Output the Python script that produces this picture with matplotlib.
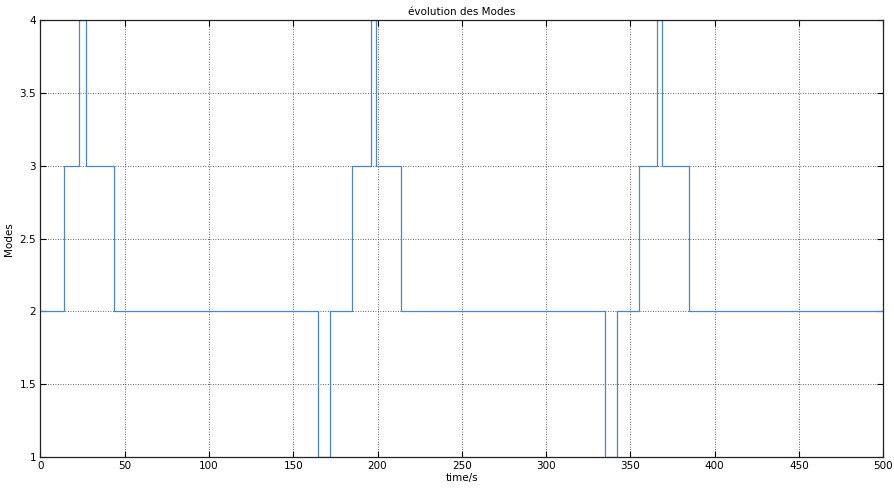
import matplotlib
matplotlib.use("Agg")
import matplotlib.pyplot as plt

# switching instants (s) and the mode held from each instant on
times = [0, 14, 23, 27, 44, 165, 172, 185, 196, 199, 214, 335, 342, 355, 366, 369, 385, 500]
modes = [2, 3, 4, 3, 2, 1, 2, 3, 4, 3, 2, 1, 2, 3, 4, 3, 2, 2]
xticks = [0, 50, 100, 150, 200, 250, 300, 350, 400, 450, 500]
yticks = [1, 1.5, 2, 2.5, 3, 3.5, 4]

plt.rcParams.update({"font.family": "DejaVu Sans", "font.size": 7.5})
fig = plt.figure(figsize=(8.95, 4.91), dpi=100)
ax = fig.add_axes([0.045, 0.069, 0.942, 0.890])

ax.plot(times, modes, drawstyle="steps-post", color="#4a86c8", lw=0.9)

ax.set_xlim(0, 500)
ax.set_ylim(1, 4)
ax.set_xticks(xticks)
ax.set_yticks(yticks)
ax.set_yticklabels(["1", "1.5", "2", "2.5", "3", "3.5", "4"])
ax.grid(True, color="#333333", ls=(0, (1, 2)), lw=0.6)
ax.tick_params(direction="in", top=True, right=True, length=4, width=0.8, pad=3)
for s in ax.spines.values():
    s.set_linewidth(0.9)
    s.set_color("#222222")

ax.set_title("évolution des Modes", fontsize=7.5, pad=4)
ax.set_xlabel("time/s", fontsize=7.5, labelpad=1)
ax.set_ylabel("Modes", fontsize=7.5, labelpad=4)

fig.savefig("out.png", dpi=100)
